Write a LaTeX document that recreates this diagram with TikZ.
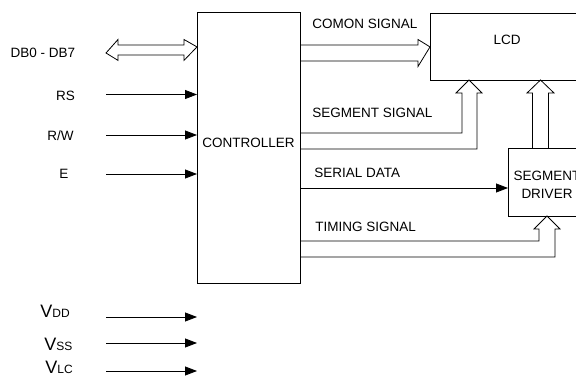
\documentclass[tikz,border=0pt]{standalone}
\usepackage{fontspec}
\setmainfont{Liberation Sans}
\usetikzlibrary{arrows.meta}

\begin{document}
\begin{tikzpicture}[x=1pt,y=-1pt,line width=0.8pt,
	every node/.style={inner sep=0pt,font=\fontsize{13.5}{18}\selectfont},
	caja/.style={draw,anchor=north west},
	flecha/.style={-{Triangle[length=12pt,width=9pt]}},
	grande/.style={font=\fontsize{18}{18}\selectfont}]
		\clip (0,0) rectangle (576,383);
		% bloques
		\node[caja,minimum width=103pt,minimum height=271pt] (ctrl) at (197,12) {};
		\node (ctrltxt) at (248.5,143) {CONTROLLER};
		\node[caja,minimum width=154pt,minimum height=67pt] (lcd) at (430,13) {};
		\node (lcdtxt) at (507,40) {LCD};
		\node[caja,minimum width=78pt,minimum height=68pt] (seg) at (508,148) {};
		\node[align=center] (segtxt) at (547,184.5) {SEGMENT\\DRIVER};
		% entradas del controlador
		\node[anchor=base] (db) at (43,57) {DB0 - DB7};
		\draw (106,53) -- ++(12,-13.5) -- ++(0,5.5) -- ++(66,0) -- ++(0,-5.5) 
		-- (ctrl.west |- lcd.west) -- ++(-13,13.5) -- ++(0,-5.5) -- ++(-66,0) 
		-- ++(0,5.5) -- cycle;
		\foreach \Nombre/\Xc/\Yc/\Ya/\Texto in 
		{rs/65.5/100/94.5/RS,rw/60.5/140/135/{R/W},e/64/178/174/E}
		{
			\node[anchor=base] (\Nombre) at (\Xc,\Yc) {\Texto};
			\coordinate (\Nombre in) at (106,\Ya);
			\draw[flecha] (\Nombre in) -- (\Nombre in -| ctrl.west);
		}
		% alimentacion
		\foreach \Nombre/\Xc/\Yc/\Ya/\Sub in 
		{vdd/40/317/317/DD,vss/44/350/343/SS,vlc/45/373/371/LC}
		{
			\node[anchor=base west] (\Nombre) at (\Xc,\Yc) 
			{{\fontsize{18}{18}\selectfont V}{\fontsize{12}{12}\selectfont \Sub}};
			\coordinate (\Nombre in) at (106,\Ya);
			\draw[flecha] (\Nombre in) -- (\Nombre in -| ctrl.west);
		}
		% salidas hacia el lcd
		\node[anchor=base west] (comtxt) at (312,28) {COMON SIGNAL};
		\draw (300,45) -- (418,45) -- (418,39.5) -- (lcd.west) 
		-- (418,66.5) -- (418,61) -- (300,61);
		\node[anchor=base west] (segsig) at (312,117) {SEGMENT SIGNAL};
		\draw (300,133) -- (462,133) -- (462,93) -- (456,93) -- (469,80) 
		-- (482,93) -- (477,93) -- (477,149) -- (300,149);
		\draw (seg.north -| 532.5,0) -- (532.5,93) -- (527,93) -- (540.5,80) 
		-- (554,93) -- (548.5,93) -- (seg.north -| 548.5,0);
		% salidas hacia el driver
		\node[anchor=base west] (sertxt) at (314,177) {SERIAL DATA};
		\coordinate (serial) at (300,188);
		\draw[flecha] (serial) -- (serial -| seg.west);
		\node[anchor=base west] (timtxt) at (315,231.5) {TIMING SIGNAL};
		\draw (300,241) -- (539,241) -- (539,229) -- (534,229) -- (547,216) 
		-- (560,229) -- (555,229) -- (555,257) -- (300,257);
\end{tikzpicture}
\end{document}
